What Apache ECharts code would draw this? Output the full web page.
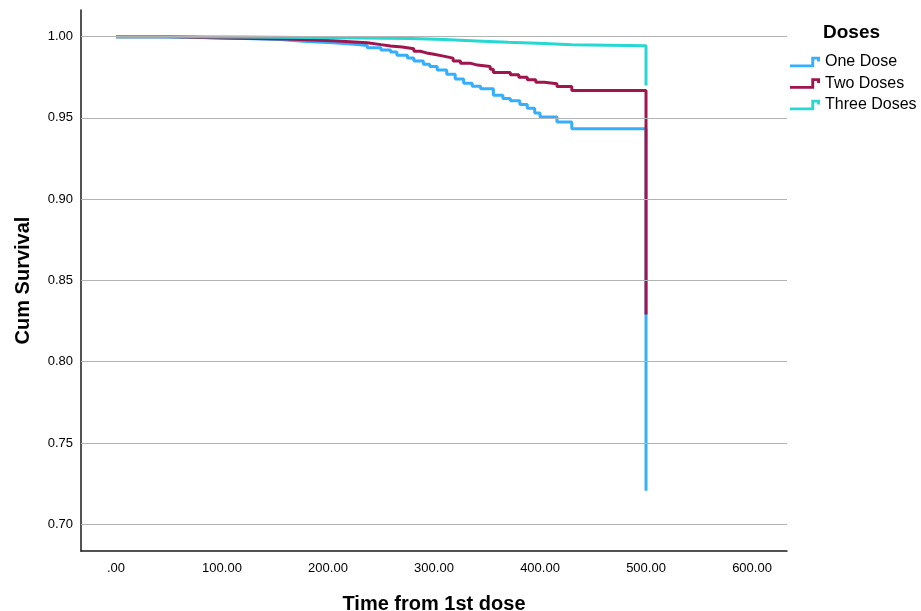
<!doctype html>
<html>

<head>
    <meta charset="utf-8">
    <title>survival</title>
    <script src="https://cdn.jsdelivr.net/npm/echarts@6/dist/echarts.min.js"></script>
    <style>
        body { margin: 0; background: #fff; }
        #container { width: 921px; height: 611px; }
    </style>
</head>

<body>
    <div id="container"></div>
    <script type="text/javascript">
        // series names
        var seriesNames = ['One Dose', 'Two Doses', 'Three Doses'];
        // step points [time, cum survival]
        var oneDose = [[0, 1.0], [40, 0.9996], [75, 0.9990], [114, 0.9982], [155, 0.9970], [180, 0.9963],
            [205, 0.9953], [225, 0.9945], [237, 0.9932], [250, 0.9918], [259, 0.9905], [265, 0.9885],
            [275, 0.9868], [281, 0.9850], [290, 0.9830], [296, 0.9816], [303, 0.9795], [312, 0.9768],
            [320, 0.9740], [328, 0.9714], [336, 0.9695], [344, 0.9680], [356, 0.9640], [365, 0.9620],
            [372, 0.9605], [381, 0.9582], [388, 0.9560], [395, 0.9530], [400, 0.9505], [416, 0.9475],
            [430, 0.9434], [500, 0.9434], [500, 0.7206]];
        var twoDoses = [[0, 1.0], [50, 0.9992], [100, 0.9985], [160, 0.9975], [205, 0.9963], [237, 0.9951],
            [250, 0.9943], [259, 0.9936], [270, 0.9925], [281, 0.9910], [287, 0.9900], [293, 0.9892],
            [300, 0.9880], [309, 0.9868], [318, 0.9850], [325, 0.9837], [334, 0.9825], [341, 0.9816],
            [353, 0.9800], [356, 0.9779], [372, 0.9765], [380, 0.9750], [388, 0.9735], [396, 0.9720],
            [404, 0.9710], [416, 0.9694], [430, 0.9669], [500, 0.9669], [500, 0.829]];
        var threeDoses = [[0, 1.0], [60, 0.9998], [120, 0.9995], [180, 0.9992], [230, 0.9988], [278, 0.9982],
            [310, 0.9974], [340, 0.9965], [370, 0.9958], [404, 0.9950], [430, 0.9944], [500, 0.9944],
            [500, 0.970]];
        // tick labels
        var xTicks = [0, 100, 200, 300, 400, 500, 600];
        var yTicks = [0.70, 0.75, 0.80, 0.85, 0.90, 0.95, 1.00];

        var colors = ['#35AEFC', '#A0154E', '#26D7D2'];
        var font = "'Liberation Sans', Arial, sans-serif";
        // step shaped legend icon
        var stepIcon = 'path://M0,8 L22,8 L22,0 L31,0 L31,5 L28,5 L28,3 L25,3 L25,11 L0,11 Z';

        var dataSets = [oneDose, twoDoses, threeDoses];
        var series = [{
            // only carries the horizontal grid lines
            type: 'line',
            name: 'grid',
            data: [],
            z: 1,
            silent: true,
            markLine: {
                silent: true,
                symbol: ['none', 'none'],
                label: { show: false },
                lineStyle: { color: '#b3b3b3', width: 1, type: 'solid' },
                animation: false,
                data: yTicks.map(function (v) { return { yAxis: v }; })
            }
        }];
        for (var i = 0; i < dataSets.length; i++) {
            series.push({
                type: 'line',
                name: seriesNames[i],
                step: 'end',
                showSymbol: false,
                symbol: 'none',
                z: 2 + i,
                color: colors[i],
                itemStyle: { color: colors[i] },
                lineStyle: { width: 3, color: colors[i] },
                data: dataSets[i]
            });
        }

        var option = {
            animation: false,
            textStyle: { fontFamily: font },
            title: {
                text: 'Doses',
                left: 818,
                top: 18,
                textStyle: { fontSize: 19, fontWeight: 'bold', color: '#000', fontFamily: font }
            },
            legend: {
                data: seriesNames.map(function (n, k) {
                    return { name: n, icon: stepIcon, itemStyle: { color: colors[k], borderWidth: 0 } };
                }),
                orient: 'vertical',
                left: 790,
                top: 54,
                padding: 0,
                itemWidth: 30,
                itemHeight: 12,
                itemGap: 5.5,
                icon: stepIcon,
                itemStyle: { borderWidth: 0 },
                lineStyle: { width: 0 },
                textStyle: { fontSize: 16, color: '#000', fontFamily: font }
            },
            grid: { left: 81, right: 134, top: 10, bottom: 60, containLabel: false, outerBoundsMode: 'none' },
            xAxis: {
                type: 'value',
                min: -33,
                max: 633,
                name: 'Time from 1st dose',
                nameLocation: 'middle',
                nameGap: 43,
                nameTextStyle: { fontSize: 20, fontWeight: 'bold', color: '#000', fontFamily: font },
                axisLine: { show: true, onZero: false, lineStyle: { color: '#1a1a1a', width: 1.5 } },
                axisTick: { show: false },
                splitLine: { show: false },
                axisLabel: {
                    customValues: xTicks,
                    margin: 11,
                    fontSize: 13,
                    color: '#000',
                    formatter: function (v) { return v === 0 ? '.00' : v.toFixed(2); }
                }
            },
            yAxis: {
                type: 'value',
                min: 0.6835,
                max: 1.0164,
                name: 'Cum Survival',
                nameLocation: 'middle',
                nameRotate: 90,
                nameGap: 48,
                nameTextStyle: { fontSize: 20, fontWeight: 'bold', color: '#000', fontFamily: font },
                axisLine: { show: true, onZero: false, lineStyle: { color: '#1a1a1a', width: 1.5 } },
                axisTick: { show: false },
                splitLine: { show: false },
                axisLabel: {
                    customValues: yTicks,
                    margin: 8,
                    fontSize: 13,
                    color: '#000',
                    formatter: function (v) { return v.toFixed(2); }
                }
            },
            series: series
        };

        var myChart = echarts.init(document.getElementById('container'));
        myChart.setOption(option);
    </script>
</body>

</html>
